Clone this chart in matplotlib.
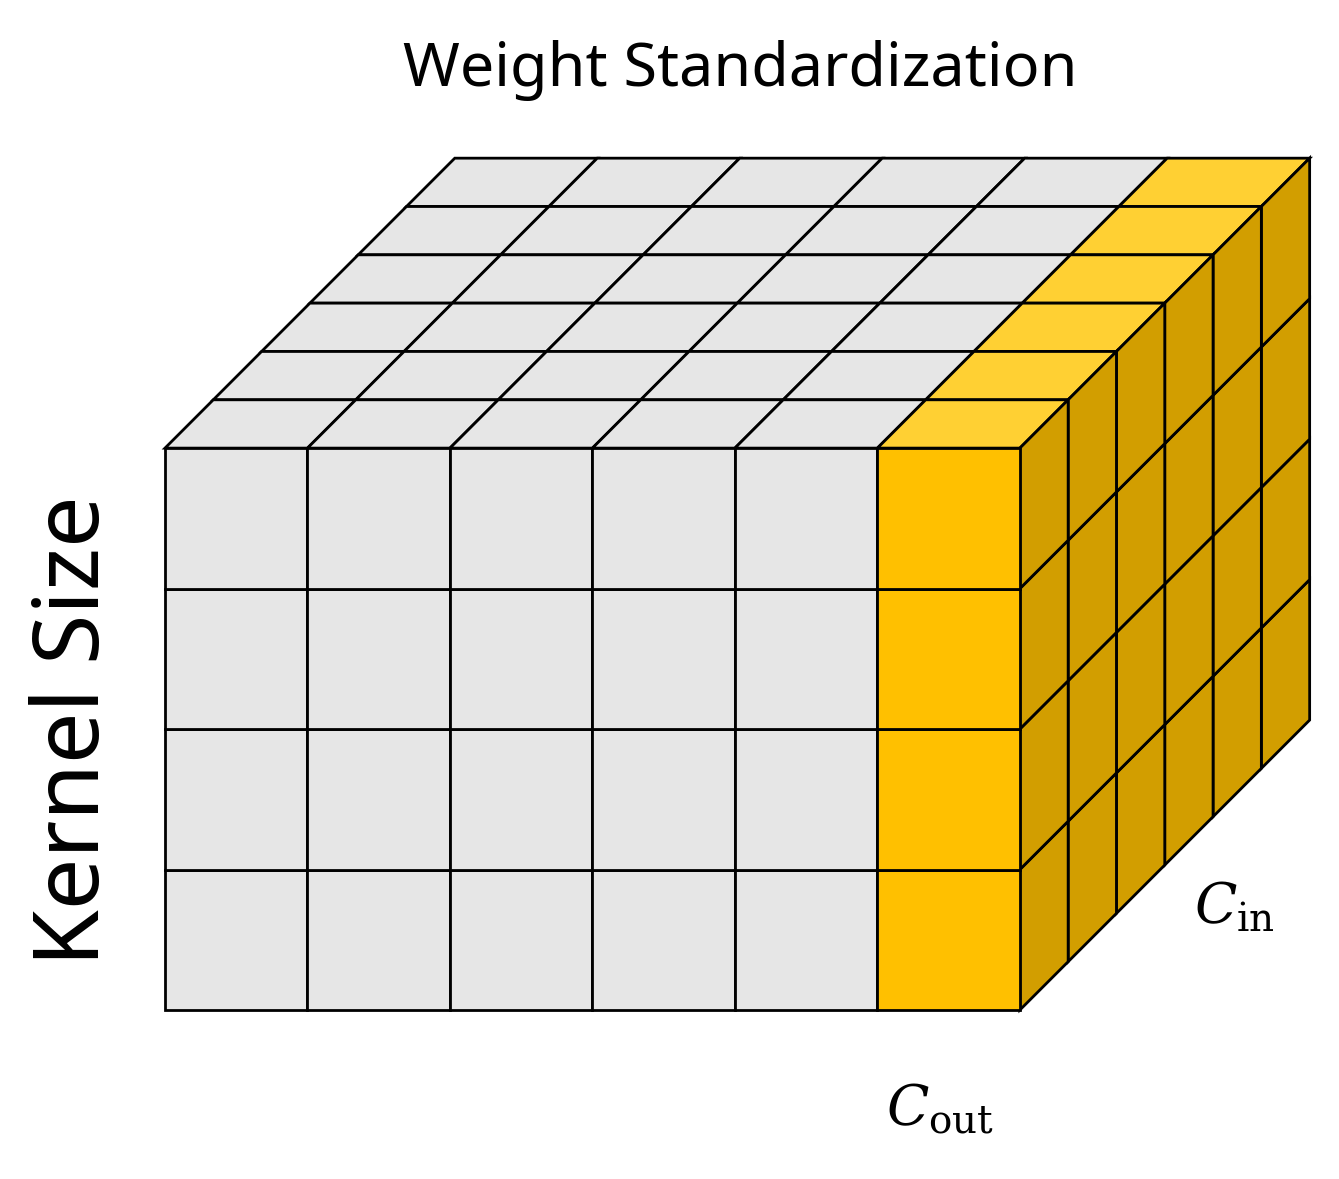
import matplotlib.pyplot as plt
from matplotlib.patches import Polygon

# grid of the weight tensor
n_cols = 6          # C_out
n_rows = 4          # kernel size
n_depth = 6         # C_in
highlight_col = 5   # standardized column

grey = '#E6E6E6'
front_yellow = '#FFC000'
top_yellow = '#FFD033'
side_yellow = '#D29E00'

dx, dy = 0.339, 0.344  # depth offset per layer (cell units)

fig = plt.figure(figsize=(13.39, 11.79), dpi=100)
ax = fig.add_axes([0, 0, 1, 1])
ax.set_xlim(-1.158, 8.24)
ax.set_ylim(-1.203, 7.19)
ax.axis('off')


def quad(pts, color):
    ax.add_patch(Polygon(pts, closed=True, facecolor=color,
                         edgecolor='black', linewidth=2, joinstyle='miter'))


# top faces, back to front
for d in range(n_depth - 1, -1, -1):
    for c in range(n_cols):
        col = top_yellow if c == highlight_col else grey
        y = n_rows
        quad([(c + d * dx, y + d * dy), (c + 1 + d * dx, y + d * dy),
              (c + 1 + (d + 1) * dx, y + (d + 1) * dy),
              (c + (d + 1) * dx, y + (d + 1) * dy)], col)

# right side faces
for d in range(n_depth - 1, -1, -1):
    for r in range(n_rows):
        x = n_cols
        quad([(x + d * dx, r + d * dy), (x + (d + 1) * dx, r + (d + 1) * dy),
              (x + (d + 1) * dx, r + 1 + (d + 1) * dy),
              (x + d * dx, r + 1 + d * dy)], side_yellow)

# front faces
for c in range(n_cols):
    for r in range(n_rows):
        col = front_yellow if c == highlight_col else grey
        quad([(c, r), (c + 1, r), (c + 1, r + 1), (c, r + 1)], col)

font = ['Noto Sans', 'DejaVu Sans']
fig.text(0.553, 0.94, 'Weight Standardization', ha='center', va='center',
         fontsize=44, family=font, fontweight='light')
fig.text(0.056, 0.38, 'Kernel Size', ha='center', va='center', rotation=90,
         fontsize=66, family=font, fontweight='light')
fig.text(0.922, 0.23, r'$C_{\mathrm{in}}$', ha='center', va='center',
         fontsize=40, math_fontfamily='dejavuserif')
fig.text(0.702, 0.058, r'$C_{\mathrm{out}}$', ha='center', va='center',
         fontsize=40, math_fontfamily='dejavuserif')

plt.savefig('out.png', dpi=100)
